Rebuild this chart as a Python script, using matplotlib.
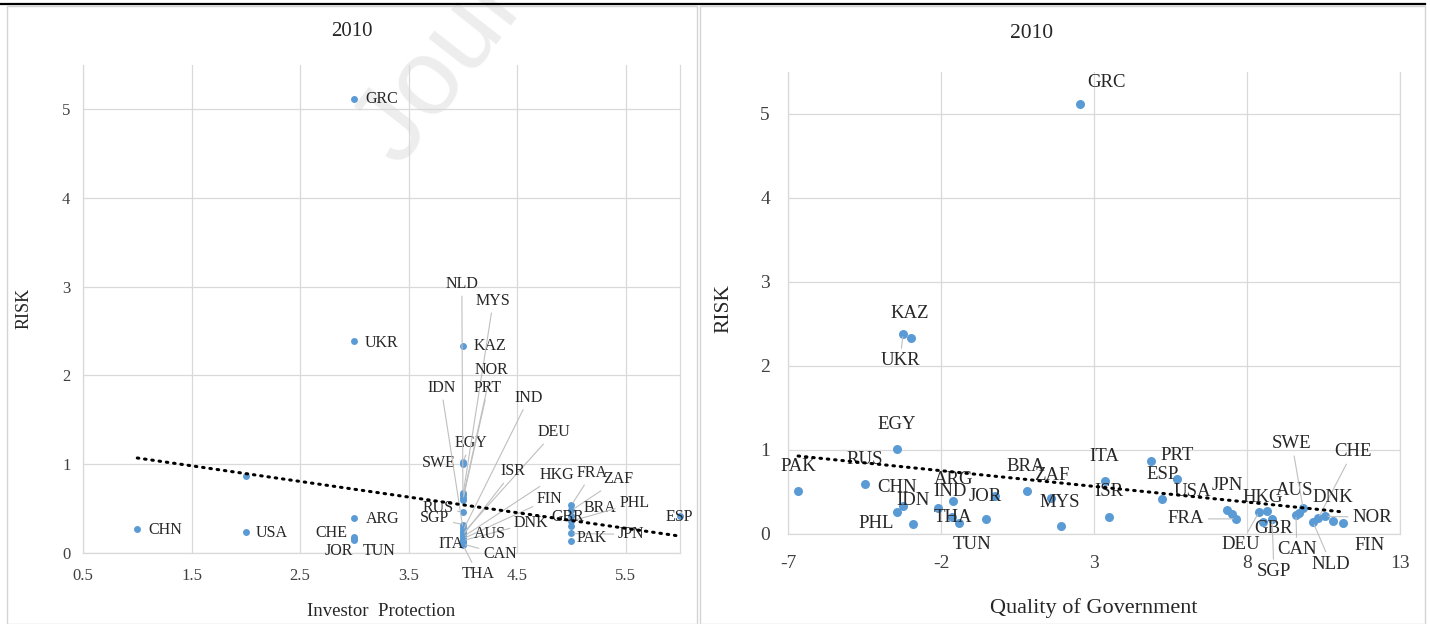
import matplotlib
matplotlib.use("Agg")
import matplotlib.pyplot as plt
from matplotlib.lines import Line2D
from matplotlib.patches import Rectangle

plt.rcParams["font.family"] = ["Liberation Serif", "DejaVu Serif"]
plt.rcParams["axes.unicode_minus"] = False

# ---- 2010, left panel: RISK vs Investor Protection ----
left_countries = ["CHN", "USA", "", "GRC", "UKR", "ARG", "CHE", "JOR", "TUN",
                  "KAZ", "EGY", "SWE", "NLD", "MYS", "NOR", "PRT", "RUS", "SGP",
                  "IDN", "IND", "DEU", "ISR", "HKG", "FIN", "DNK", "AUS", "ITA",
                  "CAN", "THA", "FRA", "ZAF", "BRA", "PHL", "GBR", "JPN", "PAK",
                  "ESP"]
left_ip = [1, 2, 2, 3, 3, 3, 3, 3, 3,
           4, 4, 4, 4, 4, 4, 4, 4, 4,
           4, 4, 4, 4, 4, 4, 4, 4, 4,
           4, 4, 5, 5, 5, 5, 5, 5, 5,
           6]
left_risk = [0.27, 0.24, 0.87, 5.11, 2.39, 0.39, 0.18, 0.15, 0.16,
             2.33, 1.02, 1.00, 0.68, 0.65, 0.62, 0.60, 0.46, 0.32,
             0.28, 0.25, 0.22, 0.20, 0.18, 0.16, 0.14, 0.12, 0.11,
             0.10, 0.09, 0.54, 0.48, 0.42, 0.36, 0.30, 0.22, 0.14,
             0.42]
left_trend = (-0.176, 1.246)  # slope, intercept of the linear trendline

# ---- 2010, right panel: RISK vs Quality of Government ----
right_countries = ["PAK", "RUS", "EGY", "UKR", "KAZ", "PHL", "CHN", "IDN", "ARG",
                   "IND", "THA", "TUN", "", "JOR", "BRA", "ZAF", "MYS", "GRC",
                   "ITA", "ISR", "PRT", "ESP", "USA", "JPN", "", "FRA", "DEU",
                   "HKG", "GBR", "SGP", "CAN", "AUS", "SWE", "NLD", "CHE", "NOR",
                   "DNK", "FIN"]
right_qog = [-6.67, -4.48, -3.43, -3.24, -2.98, -3.44, -3.24, -2.92, -2.10,
             -1.61, -1.64, -1.41, -0.53, -0.24, 0.81, 1.59, 1.92, 2.54,
             3.36, 3.49, 4.86, 5.71, 5.22, 7.35, 7.51, 7.64, 8.39,
             8.65, 8.52, 8.82, 9.60, 9.70, 9.83, 10.16, 10.33, 10.56,
             10.81, 11.14]
right_risk = [0.51, 0.60, 1.01, 2.38, 2.33, 0.26, 0.33, 0.12, 0.31,
              0.39, 0.20, 0.13, 0.18, 0.45, 0.51, 0.43, 0.10, 5.12,
              0.63, 0.20, 0.87, 0.65, 0.42, 0.29, 0.24, 0.18, 0.26,
              0.27, 0.14, 0.18, 0.23, 0.25, 0.31, 0.14, 0.19, 0.21,
              0.15, 0.13]
right_trend = (-0.0374, 0.679)

# label placement (data coords of the text centre) and whether a leader line is drawn
left_label_pos = {
    "GRC": (3.25, 5.11), "UKR": (3.25, 2.37), "ARG": (3.26, 0.38), "CHE": (2.79, 0.23),
    "JOR": (2.86, 0.02), "TUN": (3.23, 0.02), "CHN": (1.26, 0.26), "USA": (2.24, 0.23),
    "NLD": (3.99, 3.03), "MYS": (4.28, 2.84), "KAZ": (4.25, 2.33), "NOR": (4.26, 2.06),
    "PRT": (4.23, 1.86), "IDN": (3.80, 1.86), "IND": (4.61, 1.75), "DEU": (4.84, 1.36),
    "EGY": (4.07, 1.24), "SWE": (3.78, 1.01), "ISR": (4.46, 0.92), "HKG": (4.87, 0.88),
    "FIN": (4.80, 0.61), "DNK": (4.63, 0.34), "AUS": (4.25, 0.21), "CAN": (4.34, -0.01),
    "THA": (4.14, -0.24), "ITA": (3.89, 0.10), "SGP": (3.74, 0.39), "RUS": (3.77, 0.51),
    "FRA": (5.19, 0.90), "ZAF": (5.43, 0.83), "PHL": (5.58, 0.56), "BRA": (5.26, 0.51),
    "GBR": (4.97, 0.41), "PAK": (5.19, 0.17), "JPN": (5.55, 0.21), "ESP": (5.99, 0.41),
}
left_leaders = {"NLD", "MYS", "NOR", "PRT", "IDN", "IND", "DEU", "EGY", "ISR", "HKG",
                "FIN", "DNK", "CAN", "THA", "SGP", "RUS", "FRA", "ZAF", "PHL", "JPN"}

right_label_pos = {
    "PAK": (-6.67, 0.80), "RUS": (-4.48, 0.89), "CHN": (-3.44, 0.55), "IDN": (-2.92, 0.40),
    "PHL": (-4.12, 0.12), "EGY": (-3.44, 1.30), "KAZ": (-3.01, 2.62), "UKR": (-3.34, 2.06),
    "ARG": (-1.58, 0.65), "IND": (-1.71, 0.50), "THA": (-1.61, 0.20), "TUN": (-0.99, -0.13),
    "JOR": (-0.56, 0.45), "BRA": (0.78, 0.80), "ZAF": (1.63, 0.70), "MYS": (1.89, 0.38),
    "GRC": (3.42, 5.38), "ITA": (3.33, 0.92), "ISR": (3.49, 0.50), "PRT": (5.71, 0.94),
    "ESP": (5.25, 0.71), "USA": (6.20, 0.50), "JPN": (7.35, 0.58), "FRA": (6.01, 0.18),
    "DEU": (7.80, -0.12), "HKG": (8.52, 0.44), "GBR": (8.88, 0.07), "SGP": (8.88, -0.45),
    "CAN": (9.63, -0.19), "AUS": (9.57, 0.52), "SWE": (9.47, 1.08), "CHE": (11.46, 0.98),
    "DNK": (10.81, 0.44), "NLD": (10.75, -0.36), "NOR": (12.08, 0.20), "FIN": (11.99, -0.14),
}
right_leaders = {"FRA", "DEU", "SGP", "CAN", "SWE", "CHE", "NLD", "NOR", "UKR"}

DOT = "#5B9BD5"
GRID = "#d9d9d9"
TXT = "#262626"
LEAD = "#bfbfbf"

W, H = 1430, 624
fig = plt.figure(figsize=(W / 100, H / 100), dpi=100)


def px(x, y):
    return x / W, 1 - y / H


# page furniture: watermark, panel frames, top rule
fig.text(*px(400, 168), "Journal Pre-proof", rotation=52, rotation_mode="anchor",
         ha="left", va="baseline", fontsize=78, color="#ededed",
         family="Liberation Sans", zorder=-5)
fig.patches.append(Rectangle(px(7, 624), 690 / W, 618 / H, transform=fig.transFigure,
                             fill=False, edgecolor="#d4d4d4", lw=1.0, zorder=-4))
fig.patches.append(Rectangle(px(700, 624), 725 / W, 618 / H, transform=fig.transFigure,
                             fill=False, edgecolor="#d4d4d4", lw=1.0, zorder=-4))
fig.lines.append(Line2D([0, 1425 / W], [1 - 4 / H] * 2, transform=fig.transFigure,
                        color="black", lw=1.6))


def style_axes(ax, xticks, xlim, tick_fs, xpad, ypad):
    ax.set_facecolor("none")
    ax.set_xlim(*xlim)
    ax.set_ylim(0, 5.5)
    ax.set_xticks(xticks)
    ax.set_yticks(range(0, 6))
    ax.grid(True, color=GRID, lw=0.9)
    ax.set_axisbelow(True)
    for side in ("left", "bottom", "right"):
        ax.spines[side].set_color(GRID)
        ax.spines[side].set_linewidth(0.9)
    ax.spines["top"].set_visible(False)
    ax.tick_params(axis="x", length=0, pad=xpad, labelsize=tick_fs, labelcolor="#404040")
    ax.tick_params(axis="y", length=0, pad=ypad, labelsize=tick_fs, labelcolor="#404040")


def draw_points(ax, xs, ys, names, label_pos, leaders, ms, fs):
    ax.plot(xs, ys, "o", color=DOT, ms=ms, mec="none", zorder=4, clip_on=False)
    for name, x, y in zip(names, xs, ys):
        if not name:
            continue
        arrow = None
        if name in leaders:
            arrow = dict(arrowstyle="-", color=LEAD, lw=0.8, shrinkA=1, shrinkB=2)
        ax.annotate(name, xy=(x, y), xytext=label_pos[name], textcoords="data",
                    ha="center", va="center", fontsize=fs, color=TXT,
                    arrowprops=arrow, annotation_clip=False, zorder=5)


def draw_trend(ax, xs, trend):
    slope, icpt = trend
    x0, x1 = min(xs), max(xs)
    ax.plot([x0, x1], [icpt + slope * x0, icpt + slope * x1], color="black", lw=2.2,
            linestyle=(0, (0.5, 1.9)), dash_capstyle="round", zorder=6)


# left panel
axL = fig.add_axes([83 / W, 71 / H, 597 / W, 488.4 / H])
style_axes(axL, [0.5, 1.5, 2.5, 3.5, 4.5, 5.5], (0.5, 6.0), 12, 11, 9)
axL.set_xticklabels(["0.5", "1.5", "2.5", "3.5", "4.5", "5.5"])
draw_points(axL, left_ip, left_risk, left_countries, left_label_pos, left_leaders, 5.0, 11.5)
draw_trend(axL, left_ip, left_trend)
axL.set_xlabel("Investor  Protection", fontsize=13.5, color=TXT)
axL.xaxis.set_label_coords(0.5, -0.1024)
axL.set_ylabel("RISK", fontsize=13, color=TXT)
axL.yaxis.set_label_coords(-0.0838, 0.5)
fig.text(*px(352, 31), "2010", ha="center", va="center", fontsize=15, color=TXT)

# right panel
axR = fig.add_axes([788 / W, 90 / H, 612 / W, 462 / H])
style_axes(axR, [-7, -2, 3, 8, 13], (-7, 13), 14, 15, 13)
draw_points(axR, right_qog, right_risk, right_countries, right_label_pos, right_leaders, 6.5, 13.5)
draw_trend(axR, right_qog, right_trend)
axR.set_xlabel("Quality of Government", fontsize=16, color=TXT)
axR.xaxis.set_label_coords(0.5, -0.1385)
axR.set_ylabel("RISK", fontsize=15.5, color=TXT)
axR.yaxis.set_label_coords(-0.0899, 0.489)
fig.text(*px(1032, 33), "2010", ha="center", va="center", fontsize=15.5, color=TXT)

fig.savefig("out.png", dpi=100)
